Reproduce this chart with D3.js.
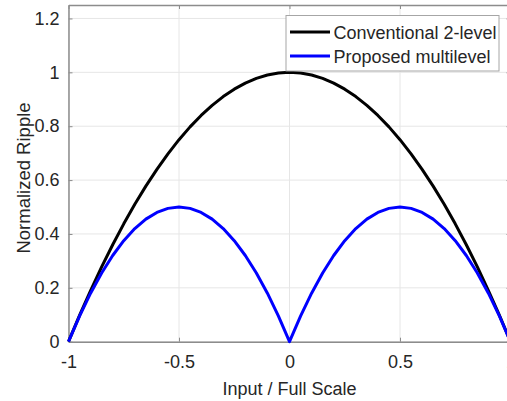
<!DOCTYPE html>
<html>
<head>
<meta charset="utf-8">
<script src="https://cdn.jsdelivr.net/npm/d3@7"></script>
<style>
  html, body { margin: 0; padding: 0; background: #fff; overflow: hidden; }
  text { font-family: "Liberation Sans", Arial, Helvetica, sans-serif; fill: #262626; }
</style>
</head>
<body>
<svg id="chart" width="507" height="401"></svg>
<script>
// Input level (fraction of full scale)
const inputLevels = [
  -1, -0.95, -0.9, -0.85, -0.8, -0.75, -0.7, -0.65, -0.6, -0.55, -0.5,
  -0.45, -0.4, -0.35, -0.3, -0.25, -0.2, -0.15, -0.1, -0.05, 0,
  0.05, 0.1, 0.15, 0.2, 0.25, 0.3, 0.35, 0.4, 0.45, 0.5,
  0.55, 0.6, 0.65, 0.7, 0.75, 0.8, 0.85, 0.9, 0.95, 1
];
// Normalized ripple, conventional 2-level converter
const conventionalRipple = [
  0, 0.0975, 0.19, 0.2775, 0.36, 0.4375, 0.51, 0.5775, 0.64, 0.6975, 0.75,
  0.7975, 0.84, 0.8775, 0.91, 0.9375, 0.96, 0.9775, 0.99, 0.9975, 1,
  0.9975, 0.99, 0.9775, 0.96, 0.9375, 0.91, 0.8775, 0.84, 0.7975, 0.75,
  0.6975, 0.64, 0.5775, 0.51, 0.4375, 0.36, 0.2775, 0.19, 0.0975, 0
];
// Normalized ripple, proposed multilevel converter
const multilevelRipple = [
  0, 0.095, 0.18, 0.255, 0.32, 0.375, 0.42, 0.455, 0.48, 0.495, 0.5,
  0.495, 0.48, 0.455, 0.42, 0.375, 0.32, 0.255, 0.18, 0.095, 0,
  0.095, 0.18, 0.255, 0.32, 0.375, 0.42, 0.455, 0.48, 0.495, 0.5,
  0.495, 0.48, 0.455, 0.42, 0.375, 0.32, 0.255, 0.18, 0.095, 0
];
const xTicks = [-1, -0.5, 0, 0.5, 1];
const xTickLabels = ["-1", "-0.5", "0", "0.5", "1"];
const yTicks = [0, 0.2, 0.4, 0.6, 0.8, 1, 1.2];
const yTickLabels = ["0", "0.2", "0.4", "0.6", "0.8", "1", "1.2"];
const seriesNames = ["Conventional 2-level", "Proposed multilevel"];
const seriesColors = ["#000000", "#0000ff"];

const svg = d3.select("#chart");
const box = { left: 68.5, right: 510.5, top: 5, bottom: 341.7 };

const x = d3.scaleLinear().domain([-1, 1]).range([box.left, box.right]);
const y = d3.scaleLinear().domain([0, 1.25]).range([box.bottom, box.top]);

// Grid lines
const grid = svg.append("g").attr("stroke", "#e6e6e6").attr("stroke-width", 1);
grid.selectAll(".gx").data(xTicks).join("line")
  .attr("x1", d => x(d)).attr("x2", d => x(d))
  .attr("y1", box.top).attr("y2", box.bottom);
grid.selectAll(".gy").data(yTicks).join("line")
  .attr("x1", box.left).attr("x2", box.right)
  .attr("y1", d => y(d)).attr("y2", d => y(d));

// Axes (ticks point inward)
const fontSize = "18px";
const axisColor = "#8c8c8c";
const bottomAxis = svg.append("g")
  .attr("transform", `translate(0,${box.bottom})`)
  .call(d3.axisBottom(x).tickValues(xTicks).tickSizeInner(-4).tickSizeOuter(0)
    .tickPadding(13.5).tickFormat((d, i) => xTickLabels[i]));
const leftAxis = svg.append("g")
  .attr("transform", `translate(${box.left},0)`)
  .call(d3.axisLeft(y).tickValues(yTicks).tickSizeInner(-4).tickSizeOuter(0)
    .tickPadding(9).tickFormat((d, i) => yTickLabels[i]));
const topAxis = svg.append("g")
  .attr("transform", `translate(0,${box.top})`)
  .call(d3.axisTop(x).tickValues(xTicks).tickSizeInner(-4).tickSizeOuter(0).tickFormat(""));
const rightAxis = svg.append("g")
  .attr("transform", `translate(${box.right},0)`)
  .call(d3.axisRight(y).tickValues(yTicks).tickSizeInner(-4).tickSizeOuter(0).tickFormat(""));

[bottomAxis, leftAxis, topAxis, rightAxis].forEach(g => {
  g.select(".domain").attr("stroke", axisColor).attr("stroke-width", 1.5);
  g.selectAll(".tick line").attr("stroke", axisColor);
  g.selectAll(".tick text").attr("fill", "#262626")
    .style("font-size", fontSize).style("font-family", "'Liberation Sans', Arial, sans-serif");
});

// Curves
const line = d3.line()
  .x((d, i) => x(inputLevels[i]))
  .y(d => y(d));
[conventionalRipple, multilevelRipple].forEach((vals, k) => {
  svg.append("path")
    .datum(vals)
    .attr("fill", "none")
    .attr("stroke", seriesColors[k])
    .attr("stroke-width", 3)
    .attr("stroke-linejoin", "round")
    .attr("d", line);
});

// Axis titles
svg.append("text")
  .attr("x", (box.left + 510.5) / 2)
  .attr("y", 395)
  .attr("text-anchor", "middle")
  .style("font-size", fontSize)
  .text("Input / Full Scale");
svg.append("text")
  .attr("transform", "translate(30,178) rotate(-90)")
  .attr("text-anchor", "middle")
  .style("font-size", "18.5px")
  .text("Normalized Ripple");

// Legend
const legend = svg.append("g");
legend.append("rect")
  .attr("x", 286).attr("y", 15.5).attr("width", 213).attr("height", 55.5)
  .attr("fill", "#fff").attr("stroke", "#a6a6a6").attr("stroke-width", 1);
seriesNames.forEach((name, k) => {
  const cy = 32 + k * 24;
  legend.append("line")
    .attr("x1", 290).attr("x2", 330).attr("y1", cy).attr("y2", cy)
    .attr("stroke", seriesColors[k]).attr("stroke-width", 3);
  legend.append("text")
    .attr("x", 333.5).attr("y", cy + 6.5)
    .style("font-size", fontSize)
    .text(name);
});
</script>
</body>
</html>
